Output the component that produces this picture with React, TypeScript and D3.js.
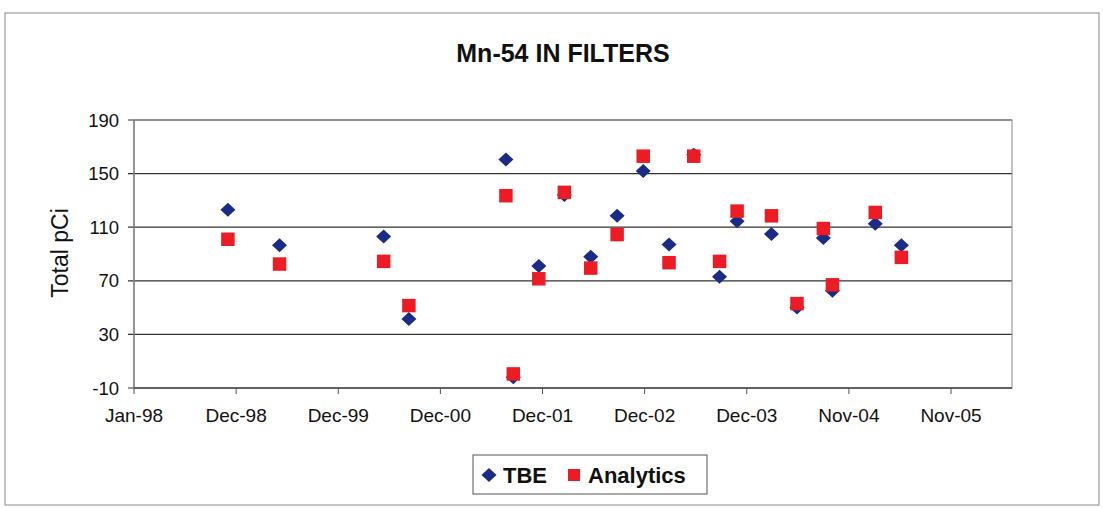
import React from 'react';
import * as d3 from 'd3';

const sampleDates = [
  '1998-11-28', '1999-05-29', '2000-05-30', '2000-08-27', '2001-08-04', '2001-08-30',
  '2001-11-28', '2002-02-26', '2002-05-30', '2002-08-31', '2002-12-01', '2003-03-02',
  '2003-05-28', '2003-08-27', '2003-10-28', '2004-02-26', '2004-05-26', '2004-08-27',
  '2004-09-28', '2005-02-26', '2005-05-29',
];
const tbeValues = [
  123, 96.5, 103, 41.5, 160.5, -2, 81, 134, 88, 118.5, 152, 97,
  164, 73, 114.5, 105, 50, 102, 62.5, 112.5, 96.5,
];
const analyticsValues = [
  101, 82.5, 84.5, 51.5, 133.5, 0.5, 71.5, 136, 79.5, 104.5, 163, 83.5,
  163, 84.5, 122, 118.5, 53, 109, 67, 121, 87.5,
];
const xTickDates = [
  '1998-01-01', '1998-12-27', '1999-12-22', '2000-12-16', '2001-12-11',
  '2002-12-06', '2003-12-01', '2004-11-25', '2005-11-20',
];
const xDomain = ['1998-01-01', '2006-06-23'];
const yTicks = [-10, 30, 70, 110, 150, 190];

const W = 1103;
const H = 508;
const plot = { left: 134, right: 1012, top: 120, bottom: 388 };
const font = '"Liberation Sans", Arial, sans-serif';
const blue = '#1b2c86';
const red = '#ec1b24';

const parse = d3.timeParse('%Y-%m-%d');
const fmt = d3.timeFormat('%b-%y');

// diamond slightly wider than tall, as in the Excel marker
const diamond = 'M0,-7L7.5,0L0,7L-7.5,0Z';

export default function App() {
  const x = d3.scaleTime()
    .domain(xDomain.map(d => parse(d) as Date))
    .range([plot.left, plot.right]);
  const y = d3.scaleLinear().domain([-10, 190]).range([plot.bottom, plot.top]);

  const square = d3.symbol().type(d3.symbolSquare).size(182)() as string;

  const pts = sampleDates.map((d, i) => ({
    date: parse(d) as Date,
    tbe: tbeValues[i],
    ana: analyticsValues[i],
  }));

  return (
    <svg width={W} height={H} style={{ position: 'absolute', left: 0, top: 0, background: '#fff' }}>
      <rect x={5} y={13} width={1094} height={492} fill="#fff" stroke="#8a8a8a" strokeWidth={1} />
      <text x={563} y={62} textAnchor="middle" fontFamily={font} fontWeight="bold" fontSize={25} fill="#111">
        Mn-54 IN FILTERS
      </text>

      {/* grid lines */}
      {yTicks.map(t => (
        <g key={t}>
          <line x1={plot.left - 6} x2={plot.right} y1={y(t)} y2={y(t)} stroke="#333" strokeWidth={1.2} />
          <text x={119} y={y(t) + 6.5} textAnchor="end" fontFamily={font} fontSize={18.5} fill="#111">{t}</text>
        </g>
      ))}
      <rect x={plot.left} y={plot.top} width={plot.right - plot.left} height={plot.bottom - plot.top}
        fill="none" stroke="#888" strokeWidth={1} />
      <line x1={plot.left} x2={plot.left} y1={plot.top} y2={plot.bottom} stroke="#777" strokeWidth={1.2} />
      <line x1={plot.left} x2={plot.right} y1={plot.bottom} y2={plot.bottom} stroke="#333" strokeWidth={1.2} />

      {xTickDates.map(d => {
        const dt = parse(d) as Date;
        const px = x(dt);
        return (
          <g key={d}>
            <line x1={px} x2={px} y1={plot.bottom} y2={plot.bottom + 6} stroke="#555" strokeWidth={1} />
            <text x={px} y={422} textAnchor="middle" fontFamily={font} fontSize={19} fill="#111">{fmt(dt)}</text>
          </g>
        );
      })}

      <text transform={`translate(68,253) rotate(-90)`} textAnchor="middle"
        fontFamily={font} fontSize={23} fill="#111">Total pCi</text>

      {pts.map((p, i) => (
        <path key={'t' + i} d={diamond} transform={`translate(${x(p.date)},${y(p.tbe)})`} fill={blue} />
      ))}
      {pts.map((p, i) => (
        <path key={'a' + i} d={square} transform={`translate(${x(p.date)},${y(p.ana)})`} fill={red} />
      ))}

      {/* legend */}
      <rect x={473} y={455} width={234} height={39} fill="#fff" stroke="#555" strokeWidth={1} />
      <path d={diamond} transform="translate(489,475)" fill={blue} />
      <text x={503} y={483} fontFamily={font} fontWeight="bold" fontSize={22} fill="#111">TBE</text>
      <rect x={568} y={469} width={12} height={12} fill={red} />
      <text x={588} y={483} fontFamily={font} fontWeight="bold" fontSize={22} fill="#111">Analytics</text>
    </svg>
  );
}
